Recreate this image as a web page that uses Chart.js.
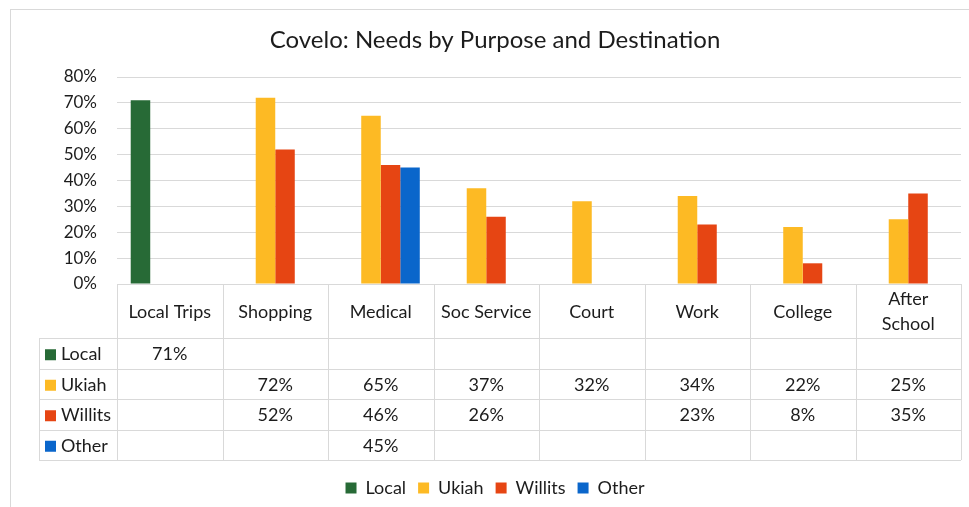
<!DOCTYPE html>
<html>
<head>
<meta charset="utf-8">
<title>Covelo: Needs by Purpose and Destination</title>
<script src="https://cdn.jsdelivr.net/npm/chart.js@4.4.1/dist/chart.umd.min.js"></script>
<style>
  html, body { margin: 0; padding: 0; background: #fff; overflow: hidden; }
  #frame {
    position: absolute; left: 10px; top: 9px;
    width: 968px; height: 520px;
    border: 1px solid #d9d9d9;
  }
  #needsChart { display: block; }
</style>
</head>
<body>
<div id="frame">
  <canvas id="needsChart" width="968" height="499"></canvas>
</div>
<script>
const categories = ["Local Trips", "Shopping", "Medical", "Soc Service", "Court", "Work", "College", ["After", "School"]];

// percent of respondents, null where a destination was not asked
const localValues   = [71, null, null, null, null, null, null, null];
const ukiahValues   = [null, 72, 65, 37, 32, 34, 22, 25];
const willitsValues = [null, 52, 46, 26, null, 23, 8, 35];
const otherValues   = [null, null, 45, null, null, null, null, null];

const seriesNames = ["Local", "Ukiah", "Willits", "Other"];
const seriesColors = ["#276a36", "#fdba24", "#e64513", "#0a66cb"];
const yTicks = [0, 10, 20, 30, 40, 50, 60, 70, 80];

const FONT = "Lato, 'Open Sans', sans-serif";
const TEXT = "#1c1c1c";
const LINE = "#d9d9d9";

// data table under the plot, columns follow the x scale
const dataTable = {
  id: "dataTable",
  afterDraw(chart) {
    const ctx = chart.ctx;
    const area = chart.chartArea;
    const x = chart.scales.x;
    const colW = (area.right - area.left) / categories.length;
    const headerH = 54;
    const rowH = 30.5;
    const tableLeft = 28;
    const top = area.bottom;
    const rowsTop = top + headerH;
    const bottom = rowsTop + rowH * seriesNames.length;
    const all = [localValues, ukiahValues, willitsValues, otherValues];

    ctx.save();
    ctx.strokeStyle = LINE;
    ctx.lineWidth = 1;
    ctx.beginPath();
    // header row
    ctx.moveTo(area.left, top + 0.5);
    ctx.lineTo(area.right, top + 0.5);
    for (let r = 0; r <= seriesNames.length; r++) {
      const y = Math.round(rowsTop + r * rowH) + 0.5;
      ctx.moveTo(tableLeft, y);
      ctx.lineTo(area.right, y);
    }
    ctx.moveTo(tableLeft + 0.5, rowsTop);
    ctx.lineTo(tableLeft + 0.5, bottom);
    for (let c = 0; c <= categories.length; c++) {
      const xx = Math.round(area.left + c * colW) + 0.5;
      ctx.moveTo(xx, top);
      ctx.lineTo(xx, bottom);
    }
    ctx.stroke();

    ctx.fillStyle = TEXT;
    ctx.font = "18px " + FONT;
    ctx.textAlign = "center";
    ctx.textBaseline = "middle";
    categories.forEach((label, i) => {
      const cx = x.getPixelForValue(i);
      const lines = Array.isArray(label) ? label : [label];
      const cy = top + headerH / 2 + 1;
      lines.forEach((ln, k) => {
        ctx.fillText(ln, cx, cy + (k - (lines.length - 1) / 2) * 25);
      });
    });

    seriesNames.forEach((name, r) => {
      const cy = rowsTop + r * rowH + rowH / 2 + 1;
      ctx.fillStyle = seriesColors[r];
      ctx.fillRect(tableLeft + 6, cy - 5, 11, 11);
      ctx.fillStyle = TEXT;
      ctx.textAlign = "left";
      ctx.fillText(name, tableLeft + 22, cy);
      ctx.textAlign = "center";
      all[r].forEach((v, i) => {
        if (v === null) return;
        ctx.fillText(v + "%", x.getPixelForValue(i), cy);
      });
    });
    ctx.restore();
  }
};

const makeSet = (i, data) => ({
  label: seriesNames[i],
  data: data,
  backgroundColor: seriesColors[i],
  borderWidth: 0,
  categoryPercentage: 0.74,
  barPercentage: 1.0
});

new Chart(document.getElementById("needsChart"), {
  type: "bar",
  data: {
    labels: categories,
    datasets: [
      makeSet(0, localValues),
      makeSet(1, ukiahValues),
      makeSet(2, willitsValues),
      makeSet(3, otherValues)
    ]
  },
  options: {
    responsive: false,
    animation: false,
    layout: { padding: { left: 18, right: 18, top: 0, bottom: 2 } },
    plugins: {
      title: {
        display: true,
        text: "Covelo: Needs by Purpose and Destination",
        color: TEXT,
        font: { family: FONT, size: 24, weight: "normal" },
        padding: { top: 15.6, bottom: 22.6 }
      },
      legend: {
        position: "bottom",
        labels: {
          color: TEXT,
          font: { family: FONT, size: 18 },
          boxWidth: 11,
          boxHeight: 11,
          padding: 12
        }
      },
      tooltip: { enabled: false }
    },
    scales: {
      x: {
        grid: { display: false },
        border: { display: false },
        ticks: { display: false },
        afterFit(s) { s.height = 183; }
      },
      y: {
        min: 0,
        max: 80,
        afterBuildTicks(s) { s.ticks = yTicks.map(v => ({ value: v })); },
        afterFit(s) { s.width = 88; },
        grid: { color: LINE, drawTicks: false },
        border: { display: false },
        ticks: {
          padding: 20,
          color: TEXT,
          font: { family: FONT, size: 17 },
          callback: v => v + "%"
        }
      }
    }
  },
  plugins: [dataTable]
});
</script>
</body>
</html>
